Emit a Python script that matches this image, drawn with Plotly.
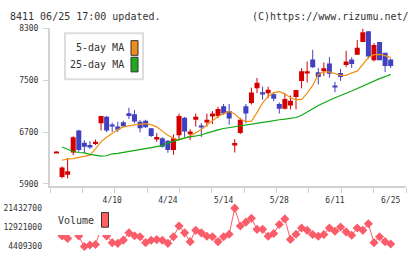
import numpy as np
import plotly.graph_objects as go

W, H = 420, 259

# ---------------- data ----------------
date_labels = ["4/10", "4/24", "5/14", "5/28", "6/11", "6/25"]
date_label_idx = [10, 20, 30, 40, 50, 60]

opens = [6380, 6005, 6040, 6385, 6725, 6535, 6500, 6515, 6835, 6935,
         6815, 6785, 6850, 6990, 6975, 6860, 6875, 6760, 6585, 6605,
         6565, 6425, 6650, 6920, 6665, 6890, 6800, 6860, 6940, 6950,
         7100, 7025, 6500, 6685, 7100, 7150, 7375, 7310, 7300, 7285,
         7135, 7060, 7110, 7240, 7490, 7615, 7820, 7625, 7640, 7760,
         7415, 7610, 7735, 7820, 7895, 8090, 8255, 7810, 8090, 7925, 7820]
highs = [6400, 6170, 6300, 6635, 6735, 6575, 6560, 6585, 6950, 6950,
         6845, 6860, 6875, 7075, 7040, 6885, 6890, 6760, 6685, 6620,
         6575, 6665, 6985, 6935, 6745, 6985, 6840, 6985, 7025, 7090,
         7135, 7135, 6590, 6920, 7135, 7385, 7535, 7400, 7400, 7310,
         7155, 7300, 7265, 7350, 7685, 7790, 7970, 7690, 7775, 7855,
         7475, 7675, 7955, 7855, 8120, 8300, 8255, 8075, 8090, 7925, 7835]
lows = [6380, 5985, 5985, 6345, 6395, 6375, 6440, 6500, 6725, 6700,
        6705, 6700, 6775, 6900, 6835, 6695, 6765, 6625, 6550, 6460,
        6380, 6350, 6590, 6625, 6575, 6785, 6625, 6785, 6825, 6915,
        6965, 6815, 6385, 6670, 6835, 7125, 7300, 7200, 7225, 7175,
        6985, 7050, 7050, 7050, 7375, 7465, 7690, 7435, 7565, 7540,
        7315, 7490, 7700, 7690, 7895, 8090, 7835, 7790, 7810, 7625, 7690]
closes = [6400, 6155, 6095, 6620, 6425, 6475, 6475, 6550, 6950, 6725,
          6790, 6735, 6790, 6950, 6865, 6760, 6775, 6640, 6625, 6475,
          6425, 6605, 6950, 6710, 6710, 6935, 6780, 6890, 6985, 7055,
          6985, 6910, 6530, 6890, 6985, 7310, 7460, 7295, 7355, 7215,
          7060, 7210, 7185, 7350, 7640, 7640, 7700, 7550, 7685, 7600,
          7395, 7550, 7790, 7750, 8000, 8240, 7865, 8045, 7810, 7720, 7720]

ma5 = [None, 6265, 6285, 6290, 6310, 6325, 6345, 6440, 6550, 6620, 6685,
       6740, 6780, 6800, 6810, 6820, 6830, 6815, 6780, 6715, 6650,
       6600, 6580, 6605, 6640, 6690, 6740, 6810, 6880, 6940, 6985,
       7020, 6980, 6900, 6860, 6870, 7000, 7150, 7250, 7310, 7325,
       7290, 7230, 7200, 7200, 7300, 7420, 7590, 7630, 7630, 7605,
       7575, 7575, 7615, 7640, 7750, 7850, 7895, 7900, 7880, 7850]
ma25 = [None, 6470, 6430, 6400, 6385, 6378, 6355, 6345, 6328, 6335, 6365,
        6372, 6385, 6402, 6415, 6425, 6440, 6460, 6475, 6490, 6530,
        6560, 6590, 6610, 6625, 6635, 6655, 6685, 6715, 6735, 6755,
        6770, 6782, 6795, 6810, 6825, 6835, 6850, 6860, 6878, 6890,
        6900, 6912, 6925, 6960, 7005, 7060, 7110, 7155, 7190, 7230,
        7260, 7300, 7335, 7375, 7410, 7450, 7495, 7525, 7555, 7590]
volume = [None, 9087000, 8004000, 13202000, 9087000, 4409300, 5102000, 5300000, 12336000, 9087000, 6142000,
          5839000, 7268000, 10474000, 9174000, 8741000, 6142000, 7200000, 7500000, 7200000, 5839000,
          8741000, 13506000, 10474000, 6575000, 11600000, 10474000, 9001000, 8741000, 6575000, 8741000,
          9867000, 21432700, 13506000, 15238000, 16971000, 12033000, 12033000, 9001000, 10170000, 14199000,
          16668000, 7571000, 9867000, 12639000, 11600000, 9737000, 9001000, 9737000, 12639000, 11166000,
          13072000, 10907000, 9434000, 12639000, 11600000, 14502000, 6142000, 8741000, 6575000, 5535000]

price_ticks = [5900, 6700, 7500, 8300]
volume_ticks = [4409300, 12921000, 21432700]

# ---------------- styles ----------------
UP = "#d40000"
DOWN = "#4040c0"
MA5_COLOR = "#f0900f"
MA25_COLOR = "#10a810"
VOL_COLOR = "#fa5c6a"
AXIS = "#d2d2d2"
TXT = "#333333"
FONT = "DejaVu Sans Mono"


def px(v):
    return v / W


def py(v):
    return 1 - v / H


n = len(opens)
xs = list(range(n))
is_up = [c >= o for o, c in zip(opens, closes)]
body_color = [UP if u else DOWN for u in is_up]
body_base = [min(o, c) for o, c in zip(opens, closes)]
body_h = [max(abs(c - o), 18) for o, c in zip(opens, closes)]

fig = go.Figure()

# wicks
for up_flag, col in [(True, UP), (False, DOWN)]:
    wx, wy = [], []
    for i in range(n):
        if is_up[i] == up_flag and highs[i] > lows[i]:
            wx += [i, i, None]
            wy += [lows[i], highs[i], None]
    fig.add_trace(go.Scatter(x=wx, y=wy, mode="lines",
                             line=dict(color=col, width=1),
                             hoverinfo="skip", xaxis="x", yaxis="y"))

# bodies
fig.add_trace(go.Bar(x=xs, y=body_h, base=body_base, width=0.9,
                     marker=dict(color=body_color, line=dict(width=0)),
                     xaxis="x", yaxis="y"))

# moving averages
fig.add_trace(go.Scatter(x=xs, y=ma5, mode="lines",
                         line=dict(color=MA5_COLOR, width=1.2),
                         xaxis="x", yaxis="y"))
fig.add_trace(go.Scatter(x=xs, y=ma25, mode="lines",
                         line=dict(color=MA25_COLOR, width=1.2),
                         xaxis="x", yaxis="y"))

# volume
fig.add_trace(go.Scatter(x=xs, y=volume, mode="lines+markers",
                         line=dict(color=VOL_COLOR, width=1),
                         marker=dict(symbol="diamond", size=7, color=VOL_COLOR,
                                     line=dict(width=0)),
                         xaxis="x2", yaxis="y2"))

xr = [-1.167, 62.75]
xdom = [px(50), px(406)]

shapes = []
annotations = []

# main legend
shapes.append(dict(type="rect", xref="paper", yref="paper", layer="above",
                   x0=px(65), x1=px(143), y0=py(77), y1=py(30),
                   line=dict(color="#dddddd", width=2), fillcolor="white"))
for lab, col, ytop in [("5-day MA", "#f08c1c", 37.5), ("25-day MA", "#20aa20", 54.5)]:
    shapes.append(dict(type="rect", xref="paper", yref="paper", layer="above",
                       x0=px(131), x1=px(138), y0=py(ytop + 15), y1=py(ytop),
                       line=dict(color="#333333", width=1), fillcolor=col))
    annotations.append(dict(text=lab, xref="paper", yref="paper",
                            x=px(126), y=py(ytop + 7.5), xanchor="right", yanchor="middle",
                            showarrow=False, font=dict(family=FONT, size=10, color=TXT)))

# volume legend (white backing hides the line beneath it)
shapes.append(dict(type="rect", xref="paper", yref="paper", layer="above",
                   x0=px(54), x1=px(111), y0=py(236.5), y1=py(204),
                   line=dict(width=0), fillcolor="white"))
shapes.append(dict(type="rect", xref="paper", yref="paper", layer="above",
                   x0=px(101.5), x1=px(108.5), y0=py(228.5), y1=py(213.5),
                   line=dict(color="#333333", width=1), fillcolor="#ff6060"))
annotations.append(dict(text="Volume", xref="paper", yref="paper",
                        x=px(96), y=py(221.5), xanchor="right", yanchor="middle",
                        showarrow=False, font=dict(family=FONT, size=10, color=TXT)))

# header
annotations.append(dict(text="8411 06/25 17:00 updated.", xref="paper", yref="paper",
                        x=px(8), y=py(12.5), xanchor="left", yanchor="middle",
                        showarrow=False, font=dict(family=FONT, size=10, color=TXT)))
annotations.append(dict(text="(C)https://www.rizumu.net/", xref="paper", yref="paper",
                        x=px(411), y=py(12.5), xanchor="right", yanchor="middle",
                        showarrow=False, font=dict(family=FONT, size=10, color=TXT)))

fig.update_layout(
    width=W, height=H, autosize=False,
    margin=dict(l=0, r=0, t=0, b=0, pad=0),
    paper_bgcolor="white", plot_bgcolor="white",
    showlegend=False, barmode="overlay",
    font=dict(family=FONT, size=8, color=TXT),
    shapes=shapes, annotations=annotations,
    xaxis=dict(domain=xdom, range=xr, anchor="y",
               showline=True, linecolor=AXIS, linewidth=2,
               tickmode="array", tickvals=date_label_idx, ticktext=date_labels,
               ticks="", ticklabelstandoff=5,
               tickfont=dict(family=FONT, size=8, color=TXT),
               minor=dict(tickmode="array",
                          tickvals=list(np.linspace(xr[0], xr[1], 12)),
                          ticks="outside", ticklen=5, tickwidth=1, tickcolor=AXIS,
                          showgrid=False),
               showgrid=False, zeroline=False, fixedrange=True),
    yaxis=dict(domain=[py(186.5), py(25)], range=[5865, 8300], anchor="x",
               showline=True, linecolor=AXIS, linewidth=2,
               ticks="outside", ticklen=5, tickwidth=1, tickcolor=AXIS,
               tickvals=price_ticks, ticktext=[str(v) for v in price_ticks],
               ticklabelstandoff=3,
               tickfont=dict(family=FONT, size=8, color=TXT),
               showgrid=False, zeroline=False, fixedrange=True),
    xaxis2=dict(domain=xdom, range=xr, anchor="y2", visible=False, fixedrange=True),
    yaxis2=dict(domain=[py(254), py(203)], range=[1940260, 24031690], anchor="x2",
                showline=False, ticks="", tickvals=volume_ticks,
                ticktext=[str(v) for v in volume_ticks],
                ticklabelstandoff=7,
                tickfont=dict(family=FONT, size=8, color=TXT),
                showgrid=False, zeroline=False, fixedrange=True),
)

fig.write_html("out.html", config={"displayModeBar": False})
